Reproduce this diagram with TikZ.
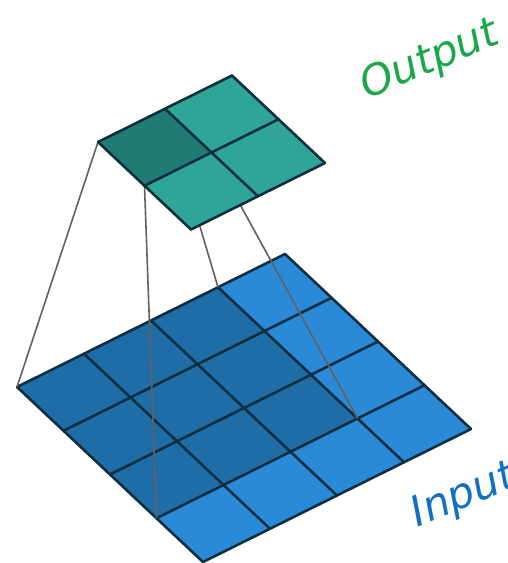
\documentclass[tikz,border=0pt]{standalone}
\usepackage{fontspec}
\newfontfamily\handfont{DejaVu Sans}
\usepackage{xcolor}
\definecolor{inlight}{HTML}{2A8AD8}
\definecolor{indark}{HTML}{1F6DA6}
\definecolor{outlight}{HTML}{2EA597}
\definecolor{outdark}{HTML}{1F7B74}
\definecolor{cellink}{HTML}{0E2F3F}
\definecolor{penblue}{HTML}{1070C8}
\definecolor{pengreen}{HTML}{1AA84A}

\begin{document}
\begin{tikzpicture}[x=1pt, y=-1pt,
  inplane/.style={shift={(17,387)}, x={(67pt,33.25pt)}, y={(46.5pt,-43.75pt)}},
  outplane/.style={shift={(98,142)}, x={(67pt,33.25pt)}, y={(46.5pt,-43.75pt)}},
  cellline/.style={draw=cellink, line width=2.6pt, line cap=round, line join=round},
  conn/.style={draw=black!62, line width=1.6pt},
  pen/.style={font=\handfont\itshape\fontsize{42}{46}\selectfont, inner sep=0pt},
]
\useasboundingbox (0,0) rectangle (508,563);
% input 4x4
\begin{scope}[inplane]
  \fill[inlight] (0,0) -- (4,0) -- (4,4) -- (0,4) -- cycle;
  \fill[indark] (0,0) -- (3,0) -- (3,3) -- (0,3) -- cycle;
  \foreach \k in {0,...,4} {
    \draw[cellline] (\k,0) -- (\k,4);
    \draw[cellline] (0,\k) -- (4,\k);
  }
  \coordinate (in-l) at (0,0);
  \coordinate (in-t) at (3,0);
  \coordinate (in-r) at (3,3);
  \coordinate (in-b) at (0,3);
\end{scope}
% corners of the dark output cell
\begin{scope}[outplane]
  \coordinate (out-l) at (0,0);
  \coordinate (out-t) at (1,0);
  \coordinate (out-r) at (1,1);
  \coordinate (out-b) at (0,1);
\end{scope}
\draw[conn] (out-l) -- (in-l);
\draw[conn] (out-t) -- (in-t);
\draw[conn] (out-r) -- (in-r);
\draw[conn] (out-b) -- (in-b);
% output 2x2
\begin{scope}[outplane]
  \fill[outlight] (0,0) -- (2,0) -- (2,2) -- (0,2) -- cycle;
  \fill[outdark] (0,0) -- (1,0) -- (1,1) -- (0,1) -- cycle;
  \foreach \k in {0,1,2} {
    \draw[cellline] (\k,0) -- (\k,2);
    \draw[cellline] (0,\k) -- (2,\k);
  }
\end{scope}
% labels
\node[pen, text=pengreen, rotate=23] (outlabel) at (430,61) {Output};
\node[pen, text=penblue, rotate=22] (inlabel) at (464,497) {Input};
\end{tikzpicture}
\end{document}
